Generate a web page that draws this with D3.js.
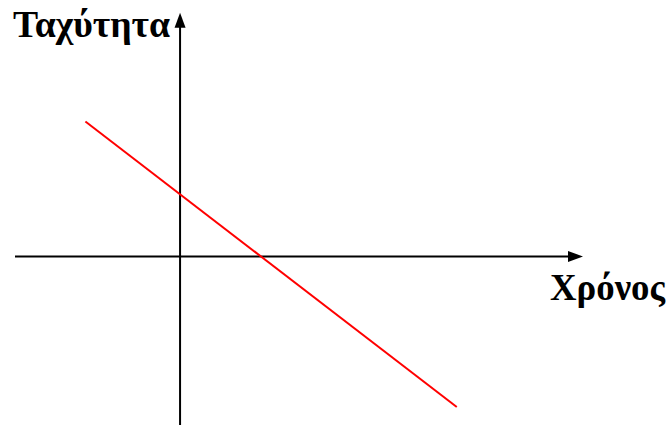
<!DOCTYPE html>
<html>
<head>
<meta charset="utf-8">
<script src="https://cdn.jsdelivr.net/npm/d3@7"></script>
<style>
  html, body { margin: 0; padding: 0; background: #fff; }
  svg { display: block; }
  .lbl { font-family: "Liberation Serif", "DejaVu Serif", serif; font-weight: bold; }
</style>
</head>
<body>
<svg id="chart" width="670" height="425"></svg>
<script>
// Data: linear decreasing velocity over time
const time = [-1.17, 3.42];
const velocity = [2.17, -2.42];
const xLabel = "Χρόνος";
const yLabel = "Ταχύτητα";

const svg = d3.select("#chart");

const x = d3.scaleLinear().domain([-2.04, 4.98]).range([15, 583]);
const y = d3.scaleLinear().domain([-2.71, 3.92]).range([425, 12.7]);

const x0 = x(0), y0 = y(0);
const arrowLen = 15, arrowHalf = 5.5;

// x axis
svg.append("line")
  .attr("x1", x.range()[0]).attr("y1", y0)
  .attr("x2", x.range()[1] - arrowLen + 1).attr("y2", y0)
  .attr("stroke", "#000").attr("stroke-width", 2);
svg.append("path")
  .attr("d", `M${x.range()[1]},${y0} L${x.range()[1]-arrowLen},${y0-arrowHalf} L${x.range()[1]-arrowLen},${y0+arrowHalf} Z`)
  .attr("fill", "#000");

// y axis
svg.append("line")
  .attr("x1", x0).attr("y1", y.range()[1] + arrowLen - 1)
  .attr("x2", x0).attr("y2", y.range()[0])
  .attr("stroke", "#000").attr("stroke-width", 2);
svg.append("path")
  .attr("d", `M${x0},${y.range()[1]} L${x0-arrowHalf},${y.range()[1]+arrowLen} L${x0+arrowHalf},${y.range()[1]+arrowLen} Z`)
  .attr("fill", "#000");

// data line
const pts = time.map((t, i) => [t, velocity[i]]);
svg.append("path")
  .datum(pts)
  .attr("d", d3.line().x(d => x(d[0])).y(d => y(d[1])))
  .attr("fill", "none")
  .attr("stroke", "#ff0000")
  .attr("stroke-width", 2);

// labels
svg.append("text")
  .attr("class", "lbl")
  .attr("x", 13).attr("y", 37)
  .attr("font-size", 38)
  .attr("textLength", 157)
  .attr("lengthAdjust", "spacingAndGlyphs")
  .text(yLabel);

svg.append("text")
  .attr("class", "lbl")
  .attr("x", 550).attr("y", 300)
  .attr("font-size", 37)
  .attr("textLength", 115)
  .attr("lengthAdjust", "spacingAndGlyphs")
  .text(xLabel);
</script>
</body>
</html>
